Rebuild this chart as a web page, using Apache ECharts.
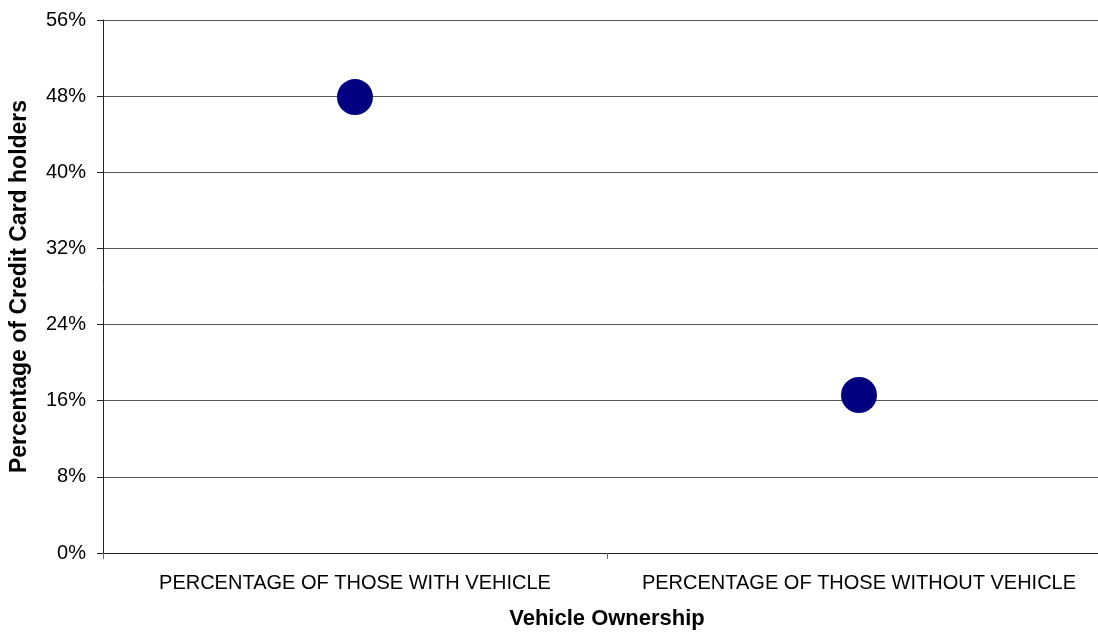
<!DOCTYPE html>
<html>
<head>
<meta charset="utf-8">
<script src="https://cdn.jsdelivr.net/npm/echarts@6/dist/echarts.min.js"></script>
<style>
html,body{margin:0;padding:0;background:#fff;overflow:hidden;}
#chart{width:1098px;height:638px;}
</style>
</head>
<body>
<div id="chart"></div>
<script>
// Share of credit card holders by vehicle ownership
const categories = ['PERCENTAGE OF THOSE WITH VEHICLE', 'PERCENTAGE OF THOSE WITHOUT VEHICLE'];
const holderShare = [47.9, 16.6];
const yTicks = { min: 0, max: 56, interval: 8 };

const chart = echarts.init(document.getElementById('chart'), null, { renderer: 'canvas' });
const font = '"Liberation Sans", Arial, sans-serif';

chart.setOption({
  animation: false,
  backgroundColor: '#ffffff',
  // plot area runs slightly past the right edge of the canvas
  grid: { left: 103, top: 20, right: -13, bottom: 85, containLabel: false, outerBoundsMode: 'none' },
  xAxis: {
    type: 'category',
    data: categories,
    boundaryGap: true,
    name: 'Vehicle Ownership',
    nameLocation: 'middle',
    nameGap: 55,
    nameTextStyle: { fontFamily: font, fontSize: 22, fontWeight: 'bold', color: '#000' },
    axisLine: { lineStyle: { color: '#222', width: 1 } },
    axisTick: { show: true, alignWithLabel: false, length: 6, lineStyle: { color: '#666' } },
    axisLabel: { fontFamily: font, fontSize: 20, color: '#000', margin: 20, interval: 0 },
    splitLine: { show: false }
  },
  yAxis: {
    type: 'value',
    min: yTicks.min,
    max: yTicks.max,
    interval: yTicks.interval,
    name: 'Percentage of Credit Card holders',
    nameLocation: 'middle',
    nameGap: 72,
    nameTextStyle: { fontFamily: font, fontSize: 23, fontWeight: 'bold', color: '#000' },
    axisLine: { show: true, lineStyle: { color: '#222', width: 1 } },
    axisTick: { show: true, length: 6, lineStyle: { color: '#222' } },
    axisLabel: { fontFamily: font, fontSize: 20, color: '#000', margin: 17, formatter: '{value}%' },
    splitLine: { show: true, lineStyle: { color: '#555', width: 1 } }
  },
  series: [{
    type: 'scatter',
    data: holderShare,
    symbol: 'circle',
    symbolSize: 36,
    itemStyle: { color: '#000080', opacity: 1 }
  }]
});
</script>
</body>
</html>
